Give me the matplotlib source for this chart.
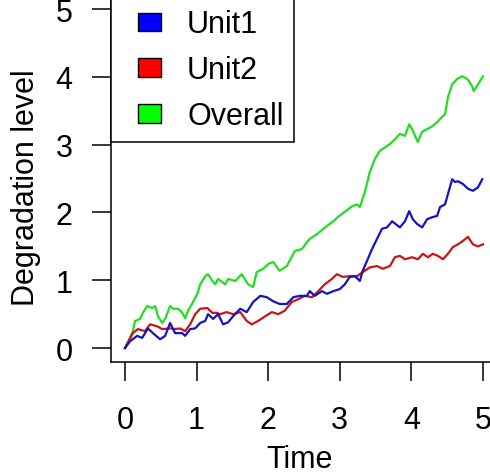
import numpy as np
import matplotlib
matplotlib.use("Agg")
import matplotlib.pyplot as plt
import matplotlib.patches as mpatches
import matplotlib.transforms as mtransforms
from matplotlib.legend_handler import HandlerPatch

plt.rcParams['font.family'] = ['Liberation Sans', 'DejaVu Sans']

# degradation paths read at irregular time points
t_overall = [0, 0.11, 0.14, 0.21, 0.25, 0.31, 0.38, 0.42, 0.46, 0.52, 0.56, 0.63, 0.67, 0.74,
             0.80, 0.84, 0.88, 0.94, 1.01, 1.05, 1.12, 1.16, 1.22, 1.26, 1.30, 1.40, 1.44, 1.54,
             1.63, 1.72, 1.79, 1.84, 1.93, 2.00, 2.07, 2.16, 2.26, 2.37, 2.47, 2.54, 2.58, 2.68,
             2.82, 2.91, 2.97, 3.07, 3.17, 3.24, 3.28, 3.35, 3.42, 3.49, 3.56, 3.63, 3.70, 3.77,
             3.84, 3.91, 3.97, 4.01, 4.05, 4.09, 4.15, 4.22, 4.29, 4.36, 4.40, 4.47, 4.51, 4.57,
             4.64, 4.71, 4.78, 4.85, 4.87, 4.93, 5.00]
overall = [0, 0.25, 0.40, 0.43, 0.52, 0.62, 0.59, 0.62, 0.47, 0.37, 0.43, 0.62, 0.58, 0.58,
           0.52, 0.44, 0.55, 0.66, 0.80, 0.94, 1.06, 1.09, 0.99, 0.94, 1.02, 0.94, 1.02, 0.99,
           1.09, 0.94, 0.90, 1.12, 1.17, 1.24, 1.27, 1.14, 1.21, 1.43, 1.46, 1.56, 1.61, 1.68,
           1.80, 1.87, 1.93, 2.01, 2.09, 2.12, 2.08, 2.30, 2.60, 2.79, 2.91, 2.96, 3.01, 3.08,
           3.16, 3.13, 3.30, 3.23, 3.13, 3.04, 3.19, 3.23, 3.27, 3.33, 3.38, 3.45, 3.70, 3.89,
           3.97, 4.01, 3.97, 3.86, 3.79, 3.89, 4.01]

t_unit1 = [0, 0.07, 0.17, 0.24, 0.32, 0.39, 0.49, 0.56, 0.63, 0.70, 0.80, 0.84, 0.91, 0.98,
           1.05, 1.12, 1.16, 1.23, 1.30, 1.37, 1.44, 1.51, 1.61, 1.70, 1.79, 1.89, 1.98, 2.07,
           2.16, 2.26, 2.35, 2.44, 2.54, 2.58, 2.65, 2.75, 2.82, 2.91, 3.00, 3.07, 3.14, 3.21,
           3.28, 3.32, 3.39, 3.45, 3.52, 3.59, 3.66, 3.73, 3.84, 3.91, 3.97, 4.02, 4.08, 4.15,
           4.22, 4.29, 4.36, 4.40, 4.47, 4.51, 4.57, 4.61, 4.65, 4.72, 4.79, 4.86, 4.93, 4.99]
unit1 = [0, 0.10, 0.18, 0.15, 0.29, 0.22, 0.13, 0.18, 0.37, 0.22, 0.22, 0.18, 0.28, 0.29,
         0.37, 0.40, 0.50, 0.43, 0.50, 0.35, 0.38, 0.47, 0.58, 0.53, 0.68, 0.77, 0.75, 0.69,
         0.65, 0.65, 0.75, 0.77, 0.77, 0.84, 0.77, 0.84, 0.80, 0.84, 0.87, 0.94, 1.05, 1.06,
         0.99, 1.14, 1.31, 1.46, 1.61, 1.76, 1.78, 1.87, 1.78, 1.87, 2.02, 1.90, 1.83, 1.78,
         1.90, 1.93, 1.95, 2.08, 2.12, 2.27, 2.49, 2.45, 2.46, 2.42, 2.35, 2.32, 2.37, 2.49]

t_unit2 = [0, 0.11, 0.18, 0.28, 0.35, 0.45, 0.52, 0.63, 0.70, 0.77, 0.84, 0.91, 0.98, 1.05,
           1.15, 1.22, 1.28, 1.33, 1.42, 1.51, 1.61, 1.70, 1.77, 1.86, 1.96, 2.05, 2.14, 2.23,
           2.33, 2.42, 2.51, 2.61, 2.70, 2.79, 2.89, 2.96, 3.04, 3.14, 3.24, 3.32, 3.42, 3.52,
           3.60, 3.70, 3.77, 3.84, 3.91, 4.01, 4.09, 4.16, 4.23, 4.30, 4.37, 4.44, 4.51, 4.58,
           4.65, 4.72, 4.79, 4.86, 4.93, 5.00]
unit2 = [0, 0.22, 0.28, 0.25, 0.35, 0.32, 0.28, 0.29, 0.28, 0.29, 0.25, 0.35, 0.50, 0.58,
         0.59, 0.52, 0.52, 0.50, 0.53, 0.50, 0.53, 0.40, 0.35, 0.40, 0.47, 0.53, 0.50, 0.55,
         0.68, 0.72, 0.77, 0.75, 0.84, 0.94, 1.02, 1.09, 1.05, 1.06, 1.06, 1.12, 1.19, 1.21,
         1.17, 1.21, 1.34, 1.36, 1.31, 1.34, 1.31, 1.39, 1.34, 1.39, 1.36, 1.31, 1.39, 1.49,
         1.53, 1.58, 1.64, 1.53, 1.50, 1.53]

labels = ['Unit1', 'Unit2', 'Overall']
fills = ['#0000ff', '#ff0000', '#00ff00']
line_cols = ['#1414c0', '#cc1414', '#22dd22']
ticks = [0, 1, 2, 3, 4, 5]

fig = plt.figure(figsize=(4.9, 4.77), dpi=100)
ax = fig.add_axes([0.2259, 0.2398, 0.789, 0.7675])

ax.plot(t_overall, overall, color=line_cols[2], lw=1.6)
ax.plot(t_unit2, unit2, color=line_cols[1], lw=1.6)
ax.plot(t_unit1, unit1, color=line_cols[0], lw=1.6)

ax.set_xlim(-0.2, 5.2)
ax.set_ylim(-0.2, 5.2)
ax.set_xticks(ticks)
ax.set_yticks(ticks)
for s in ['top', 'right']:
    ax.spines[s].set_visible(False)
for s in ['left', 'bottom']:
    ax.spines[s].set_linewidth(1.1)
ax.tick_params(axis='both', direction='out', length=13.5, width=1.1, labelsize=22, colors='black')
ax.tick_params(axis='x', pad=18)
ax.tick_params(axis='y', pad=14)


# square fill box pushed to the right of the handle area
def square_box(legend, orig_handle, xdescent, ydescent, width, height, fontsize):
    w = 0.75 * fontsize
    h = 0.6 * fontsize
    return mpatches.Rectangle((-xdescent + width - w, -ydescent + (height - h) / 2), w, h)


handles = [mpatches.Patch(facecolor=c, edgecolor='black', lw=1.0) for c in fills]
anchor = mtransforms.blended_transform_factory(ax.transAxes, ax.transData)
leg = ax.legend(handles, labels, loc='lower left', bbox_to_anchor=(0, 3.04),
                bbox_transform=anchor, borderaxespad=0,
                fontsize=22, frameon=True, fancybox=False, borderpad=0.35,
                handlelength=1.3, handleheight=0.6, handletextpad=0.85, labelspacing=0.52,
                handler_map={mpatches.Patch: HandlerPatch(patch_func=square_box)})
leg.get_frame().set_edgecolor('black')
leg.get_frame().set_linewidth(1.1)
leg.get_frame().set_alpha(1)

fig.text(26 / 490, 1 - 188 / 477, 'Degradation level', rotation=90, ha='center', va='center', fontsize=22)
fig.text(300 / 490, 1 - 468 / 477, 'Time', ha='center', va='baseline', fontsize=22)

fig.savefig('out.png', dpi=100)
